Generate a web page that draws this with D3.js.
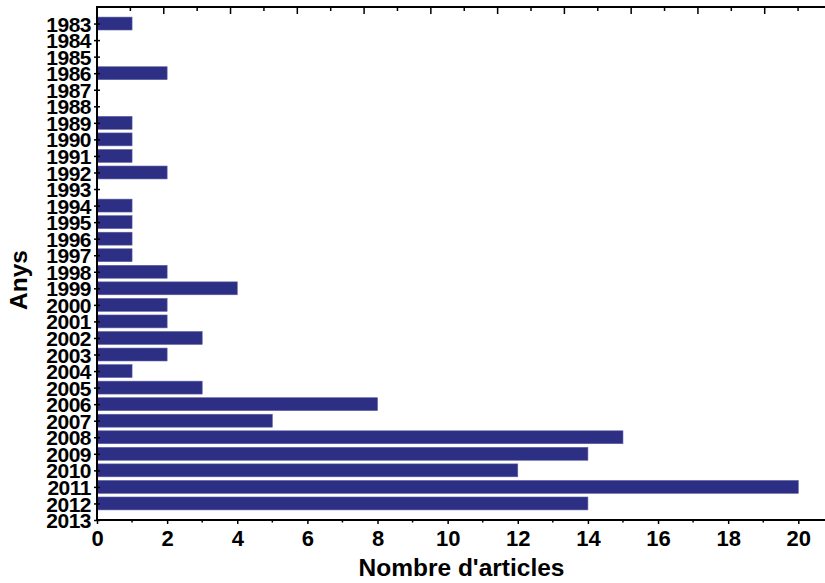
<!DOCTYPE html>
<html>
<head>
<meta charset="utf-8">
<script src="https://cdn.jsdelivr.net/npm/d3@7"></script>
<style>
  html, body { margin: 0; padding: 0; background: #fff; }
  svg { display: block; }
  text { font-family: "Liberation Sans", Arial, sans-serif; font-weight: bold; fill: #000; }
</style>
</head>
<body>
<svg id="chart" width="825" height="583"></svg>
<script>
const years = [1983,1984,1985,1986,1987,1988,1989,1990,1991,1992,1993,1994,1995,1996,1997,1998,1999,2000,2001,2002,2003,2004,2005,2006,2007,2008,2009,2010,2011,2012,2013];
const articles = [1,0,0,2,0,0,1,1,1,2,0,1,1,1,1,2,4,2,2,3,2,1,3,8,5,15,14,12,20,14,0];
const xTicks = [0,2,4,6,8,10,12,14,16,18,20];
const xTitle = "Nombre d'articles";
const yTitle = "Anys";

const plotL = 97, plotR = 825, plotT = 7, plotB = 520;
const svg = d3.select("#chart");

const x = d3.scaleLinear().domain([0, 20]).range([plotL, 798.3]);
const xTop = d3.scaleLinear().domain([0, 20]).range([plotL, 764.7]);
const y = d3.scaleLinear().domain([1982, 2013]).range([plotT, plotB]);
const step = y(1983) - y(1982);
const barH = step * 0.78;

const data = years.map((yr, i) => ({ year: yr, value: articles[i] }));

// bars
svg.append("g").selectAll("rect").data(data.filter(d => d.value > 0)).join("rect")
  .attr("x", x(0))
  .attr("y", d => y(d.year) - barH / 2)
  .attr("width", d => x(d.value) - x(0))
  .attr("height", barH)
  .attr("fill", "#2c2f83")
  .attr("stroke", "#5d60a3")
  .attr("stroke-width", 0.6);

// bottom axis
const gB = svg.append("g").attr("transform", `translate(0,${plotB})`);
const bottomAxis = d3.axisBottom(x).tickValues(xTicks).tickSize(4).tickPadding(6).tickFormat(d3.format("d"));
gB.call(bottomAxis);
gB.select(".domain").remove();
gB.selectAll(".tick line").attr("stroke", "#000").attr("stroke-width", 1.5);
gB.selectAll(".tick text").attr("font-size", 22).attr("dy", null).attr("y", 26)
  .style("font-family", "'Liberation Sans', Arial, sans-serif").style("font-weight", "bold");
const minorB = d3.range(1, 21, 2);
gB.append("g").selectAll("line").data(minorB).join("line")
  .attr("x1", d => x(d)).attr("x2", d => x(d)).attr("y1", 0).attr("y2", 2.5)
  .attr("stroke", "#000").attr("stroke-width", 1.5);
gB.append("line").attr("x1", plotL - 1).attr("x2", plotR).attr("y1", 0).attr("y2", 0)
  .attr("stroke", "#000").attr("stroke-width", 2);

// top axis
const gT = svg.append("g").attr("transform", `translate(0,${plotT})`);
const topTicks = d3.range(0, 22, 1);
gT.selectAll("line.t").data(topTicks).join("line").attr("class", "t")
  .attr("x1", d => xTop(d)).attr("x2", d => xTop(d))
  .attr("y1", 0).attr("y2", d => d % 2 === 0 ? 7 : 4)
  .attr("stroke", "#000").attr("stroke-width", 1.5);
gT.append("line").attr("x1", plotL - 1).attr("x2", plotR).attr("y1", 0).attr("y2", 0)
  .attr("stroke", "#000").attr("stroke-width", 2);

// left axis
const gL = svg.append("g").attr("transform", `translate(${plotL},0)`);
const leftAxis = d3.axisLeft(y).tickValues(years).tickSize(3).tickPadding(3).tickFormat(d3.format("d"));
gL.call(leftAxis);
gL.select(".domain").remove();
gL.selectAll(".tick line").attr("x1", 3).attr("x2", -3).attr("stroke", "#000").attr("stroke-width", 1.5);
gL.selectAll(".tick text").attr("font-size", 21).attr("x", -6).attr("dy", "0.36em")
  .style("letter-spacing", "-0.5px")
  .style("font-family", "'Liberation Sans', Arial, sans-serif").style("font-weight", "bold");
gL.append("line").attr("x1", 0).attr("x2", 0).attr("y1", plotT - 1).attr("y2", plotB + 1)
  .attr("stroke", "#000").attr("stroke-width", 2);

// titles
svg.append("text").attr("x", 461.5).attr("y", 576).attr("text-anchor", "middle")
  .attr("font-size", 24.5).text(xTitle);
svg.append("text").attr("transform", "translate(27,280) rotate(-90)").attr("text-anchor", "middle")
  .attr("font-size", 24.5).text(yTitle);
</script>
</body>
</html>
